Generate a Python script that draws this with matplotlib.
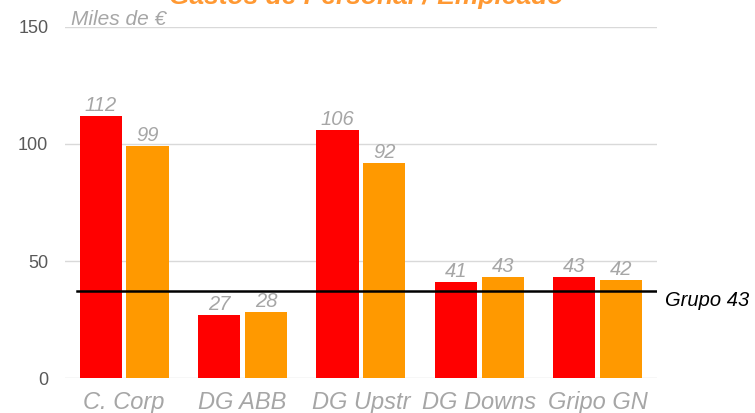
import numpy as np
import matplotlib.pyplot as plt

plt.rcParams['font.family'] = ['Liberation Sans', 'DejaVu Sans']

## Data
categorias = ['C. Corp', 'DG ABB', 'DG Upstr', 'DG Downs', 'Gripo GN']
serie_rojo = [112, 27, 106, 41, 43]
serie_naranja = [99, 28, 92, 43, 42]
grupo = 37.2
grupo_label = 'Grupo 43'

x = np.arange(len(categorias))
w = 0.355

fig = plt.figure(figsize=(7.55, 4.13), dpi=100)
ax = fig.add_axes([0.086, 0.0847, 0.784, 0.85])

b1 = ax.bar(x - w/2 - 0.02, serie_rojo, w, color='#FF0000', zorder=2)
b2 = ax.bar(x + w/2 + 0.02, serie_naranja, w, color='#FF9900', zorder=2)

for bars, vals in [(b1, serie_rojo), (b2, serie_naranja)]:
    for b, v in zip(bars, vals):
        ax.text(b.get_x() + b.get_width()/2, v + 2.2, str(v), ha='center', va='baseline',
                color='#A6A6A6', fontsize=14.5, style='italic')

# linea del grupo
ax.axhline(grupo, xmin=0.02, xmax=1.0, color='black', lw=1.8, zorder=3)
ax.text(4.57, grupo - 4, grupo_label, ha='left', va='center', fontsize=14.5,
        style='italic', color='black', clip_on=False)

ax.set_xlim(-0.5, 4.5)
ax.set_ylim(0, 150)
ax.set_yticks([0, 50, 100, 150])
ax.yaxis.grid(True, color='#D9D9D9', lw=1, zorder=0)
ax.set_axisbelow(True)
for s in ax.spines.values():
    s.set_visible(False)
ax.tick_params(axis='y', length=0, colors='#595959', labelsize=13, pad=12)
ax.tick_params(axis='x', length=0, colors='#A6A6A6', labelsize=17, pad=9)
ax.set_xticks(x)
ax.set_xticklabels(categorias, style='italic')

ax.text(-0.452, 151, 'Miles de €', ha='left', va='baseline',
        color='#A6A6A6', fontsize=15, style='italic', clip_on=False)

fig.text(0.485, 0.99, 'Gastos de Personal / Empleado', ha='center', va='baseline',
         color='#FF9933', fontsize=19, fontweight='bold', style='italic')

fig.savefig('out.png', dpi=100)
